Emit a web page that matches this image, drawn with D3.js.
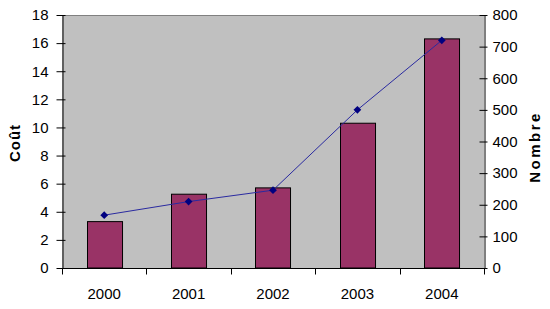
<!DOCTYPE html>
<html>
<head>
<meta charset="utf-8">
<script src="https://cdn.jsdelivr.net/npm/d3@7"></script>
<style>
body{margin:0;background:#fff;}
text{font-family:"Liberation Sans",Arial,sans-serif;}
</style>
</head>
<body>
<div id="chart"></div>
<script>
var years = ["2000","2001","2002","2003","2004"];
var cout = [3.3,5.25,5.7,10.3,16.3];
var nombre = [167,210,246,500,720];
var coutTicks = [0,2,4,6,8,10,12,14,16,18];
var nombreTicks = [0,100,200,300,400,500,600,700,800];

var W = 550, H = 309;
var pLeft = 62, pRight = 484, pTop = 15, pBottom = 268;

var svg = d3.select("#chart").append("svg").attr("width",W).attr("height",H);

var x = d3.scaleBand().domain(years).range([pLeft,pRight]).paddingInner(0.585).paddingOuter(0.2925);
var xc = d3.scaleBand().domain(years).range([pLeft,pRight]);
var yL = d3.scaleLinear().domain([0,18]).range([pBottom,pTop]);
var yR = d3.scaleLinear().domain([0,800]).range([pBottom,pTop]);

// plot area
svg.append("rect").attr("x",pLeft).attr("y",pTop).attr("width",pRight-pLeft).attr("height",pBottom-pTop)
	.attr("fill","#c0c0c0");
svg.append("line").attr("x1",pLeft).attr("x2",pRight).attr("y1",pTop+0.5).attr("y2",pTop+0.5)
	.attr("stroke","#808080");

// bars
svg.selectAll(".bar").data(years).enter().append("rect")
	.attr("x",function(d){return Math.round(x(d))+0.5;})
	.attr("y",function(d,i){return yL(cout[i]);})
	.attr("width",x.bandwidth())
	.attr("height",function(d,i){return pBottom-yL(cout[i]);})
	.attr("fill","#993366").attr("stroke","#000").attr("stroke-width",1);

// line
var line = d3.line()
	.x(function(d,i){return xc(years[i])+xc.bandwidth()/2;})
	.y(function(d){return yR(d);});
svg.append("path").datum(nombre).attr("d",line)
	.attr("fill","none").attr("stroke","#2a2aa0").attr("stroke-width",1);
svg.selectAll(".pt").data(nombre).enter().append("path")
	.attr("d",d3.symbol().type(d3.symbolSquare).size(30))
	.attr("transform",function(d,i){return "translate("+(xc(years[i])+xc.bandwidth()/2)+","+yR(d)+") rotate(45)";})
	.attr("fill","#000080");

// axes
var axL = svg.append("g").attr("transform","translate("+(pLeft+0.5)+",0)")
	.call(d3.axisLeft(yL).tickValues(coutTicks).tickSizeInner(6).tickSizeOuter(0).tickPadding(8));
axL.selectAll(".tick line").attr("x2",-6).attr("x1",3);
var axR = svg.append("g").attr("transform","translate("+(pRight+0.5)+",0)")
	.call(d3.axisRight(yR).tickValues(nombreTicks).tickSizeInner(3).tickSizeOuter(0).tickPadding(5));
axR.selectAll(".tick line").attr("x1",-5);

var axB = svg.append("g").attr("transform","translate(0,"+(pBottom+0.5)+")");
axB.append("line").attr("x1",pLeft).attr("x2",pRight).attr("stroke","#000");
axB.selectAll(".tk").data(d3.range(years.length+1)).enter().append("line")
	.attr("x1",function(i){return Math.round(pLeft+i*xc.step())+0.5;})
	.attr("x2",function(i){return Math.round(pLeft+i*xc.step())+0.5;})
	.attr("y1",0).attr("y2",6).attr("stroke","#000");
axB.selectAll(".lb").data(years).enter().append("text")
	.attr("x",function(d){return xc(d)+xc.bandwidth()/2;})
	.attr("y",30).attr("text-anchor","middle")
	.attr("font-size",15).attr("fill","#000").text(function(d){return d;});

svg.selectAll(".domain").attr("stroke","#000");
svg.selectAll(".tick line").attr("stroke","#000");
svg.selectAll(".tick text").attr("font-size",15).attr("fill","#000");

svg.append("text").attr("transform","translate(20,143) rotate(-90)")
	.attr("text-anchor","middle").attr("font-weight","bold").attr("font-size",15)
	.attr("letter-spacing",1).text("Coût");
svg.append("text").attr("transform","translate(540,147) rotate(-90)")
	.attr("text-anchor","middle").attr("font-weight","bold").attr("font-size",15)
	.attr("letter-spacing",2.5).text("Nombre");
</script>
</body>
</html>
